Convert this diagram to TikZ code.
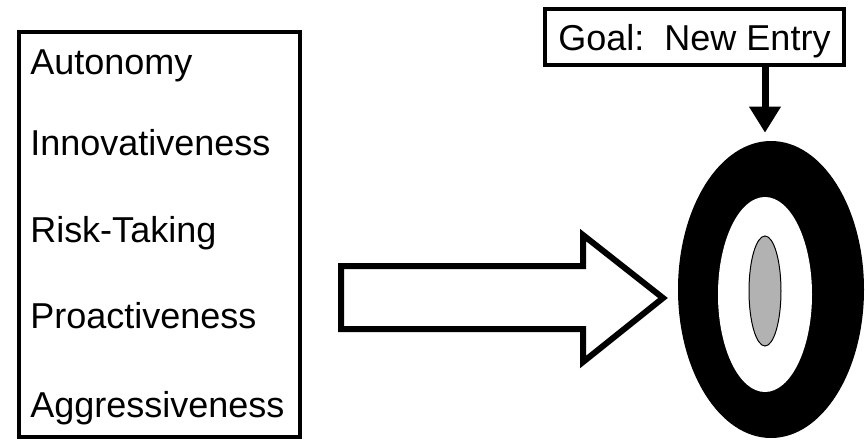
\documentclass[tikz,border=0pt]{standalone}
\usepackage{fontspec}
\setmainfont{Liberation Sans}
\usetikzlibrary{shapes.geometric,arrows.meta}
\definecolor{bullgray}{gray}{0.7}

\begin{document}
\begin{tikzpicture}[x=0.75pt,y=-0.75pt,font=\fontsize{27}{32}\selectfont]
  \useasboundingbox (0,0) rectangle (865,440);

  % traits
  \node[draw,line width=3pt,minimum width=210.75pt,minimum height=303.75pt] (traits) at (159.5,234.5) {};
  \begin{scope}[every node/.style={anchor=base west,inner sep=0pt}]
    \node (autonomy) at (30,74)  {Autonomy};
    \node (innov)    at (30,155) {Innovativeness};
    \node (risk)     at (30,242) {Risk-Taking};
    \node (proact)   at (30,328) {Proactiveness};
    \node (aggress)  at (30,417) {Aggressiveness};
  \end{scope}

  % big arrow
  \draw[line width=4.5pt,fill=white] (341,266) -- (583,266) -- (583,235) -- (663,298)
    -- (583,362) -- (583,329) -- (341,329) -- cycle;

  % target
  \begin{scope}[every node/.style={ellipse,inner sep=0pt}]
    \node[fill=black,minimum width=139.5pt,minimum height=222.75pt] (target) at (771,289.5) {};
    \node[fill=white,minimum width=70.5pt,minimum height=146.25pt] (ring) at (765,294.5) {};
    \node[fill=bullgray,draw,line width=0.75pt,minimum width=24pt,minimum height=82.5pt] (bull) at (765,291) {};
  \end{scope}

  \node[draw,line width=3pt,minimum width=224.25pt,minimum height=42.4pt,inner sep=0pt,text depth=0pt] (goal) at (694.5,37) {Goal:\ \ New Entry};
  \coordinate (aim) at ([yshift=6pt]target.north);
  \draw[line width=5.25pt,-{Triangle[length=19.5pt,width=22.5pt]}] (goal.south -| ring.center) -- (aim -| ring.center);

\end{tikzpicture}
\end{document}
